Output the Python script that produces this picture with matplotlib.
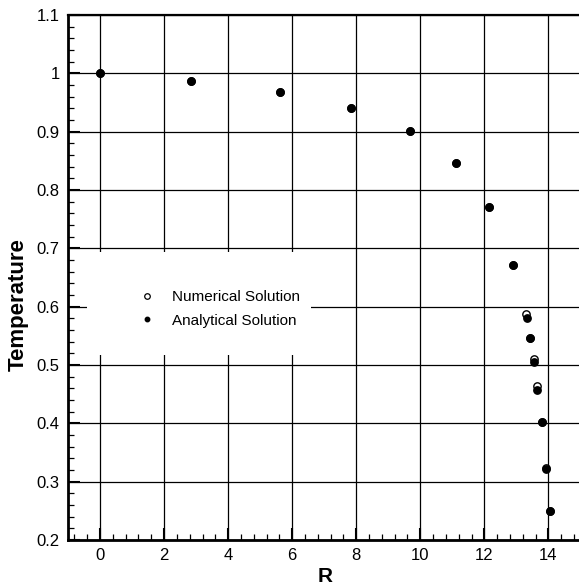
import matplotlib
matplotlib.use('Agg')
import matplotlib.pyplot as plt
from matplotlib.lines import Line2D
from matplotlib.patches import Rectangle
from matplotlib.ticker import MultipleLocator

plt.rcParams['font.family'] = ['Liberation Sans', 'DejaVu Sans']

# valores
r_analitico = [0.0, 2.83, 5.61, 7.85, 9.69, 11.11, 12.15, 12.90, 13.32, 13.42, 13.56, 13.66, 13.80, 13.94, 14.04]
t_analitico = [1.000, 0.987, 0.968, 0.941, 0.902, 0.847, 0.771, 0.672, 0.581, 0.546, 0.505, 0.458, 0.402, 0.321, 0.250]
r_numerico = [0.0, 2.83, 5.61, 7.85, 9.69, 11.11, 12.15, 12.90, 13.31, 13.42, 13.55, 13.65, 13.80, 13.92, 14.04]
t_numerico = [1.000, 0.987, 0.968, 0.941, 0.902, 0.847, 0.771, 0.672, 0.588, 0.546, 0.511, 0.464, 0.402, 0.323, 0.250]

x_ticks = [0, 2, 4, 6, 8, 10, 12, 14]
y_ticks = [0.2, 0.3, 0.4, 0.5, 0.6, 0.7, 0.8, 0.9, 1.0, 1.1]
y_labels = ['0.2', '0.3', '0.4', '0.5', '0.6', '0.7', '0.8', '0.9', '1', '1.1']

fig = plt.figure(figsize=(5.79, 5.86), dpi=100)
ax = fig.add_axes([68 / 579, 46 / 586, 512.4 / 579, 525 / 586])

ax.set_xlim(-1, 15)
ax.set_ylim(0.2, 1.1)
ax.set_xticks(x_ticks)
ax.set_yticks(y_ticks)
ax.set_yticklabels(y_labels)
ax.xaxis.set_minor_locator(MultipleLocator(0.4))
ax.yaxis.set_minor_locator(MultipleLocator(0.02))

ax.grid(True, which='major', color='black', linewidth=0.9)
ax.tick_params(which='major', direction='in', length=8.5, width=1.5, labelsize=12, pad=6)
ax.tick_params(which='minor', direction='in', length=4, width=0.9)

for lado in ['left', 'bottom']:
    ax.spines[lado].set_linewidth(2.0)
ax.spines['top'].set_linewidth(1.6)
ax.spines['right'].set_linewidth(1.6)

# fondo blanco de la leyenda (tapa la rejilla)
ax.add_patch(Rectangle((-0.4, 0.517), 7.0, 0.1765, facecolor='white', edgecolor='none', zorder=1.7))

ax.plot(r_analitico, t_analitico, linestyle='none', marker='o', markersize=5.3,
        color='black', zorder=3)
ax.plot(r_numerico, t_numerico, linestyle='none', marker='o', markersize=5.3,
        markerfacecolor='none', markeredgecolor='black', markeredgewidth=1.0, zorder=4)

h_num = Line2D([], [], linestyle='none', marker='o', markersize=4, markerfacecolor='white',
               markeredgecolor='black', markeredgewidth=0.9)
h_ana = Line2D([], [], linestyle='none', marker='o', markersize=3.2, color='black')
leg = ax.legend([h_num, h_ana], ['Numerical Solution', 'Analytical Solution'],
                loc='center left', bbox_to_anchor=(0.1405, 0.44), frameon=False,
                prop={'size': 11, 'weight': 'medium'}, handlelength=0.9, handletextpad=1.2,
                labelspacing=0.62, borderpad=0, borderaxespad=0)
leg.set_zorder(5)

ax.set_xlabel('R', fontsize=15, fontweight='bold')
ax.set_ylabel('Temperature', fontsize=16, fontweight='bold')
ax.xaxis.set_label_coords(0.5025, -0.069)
ax.yaxis.set_label_coords(-0.0976, 0.449)
ax.xaxis.label.set_va('center')
ax.yaxis.label.set_va('center')

fig.savefig('out.png', dpi=100)
